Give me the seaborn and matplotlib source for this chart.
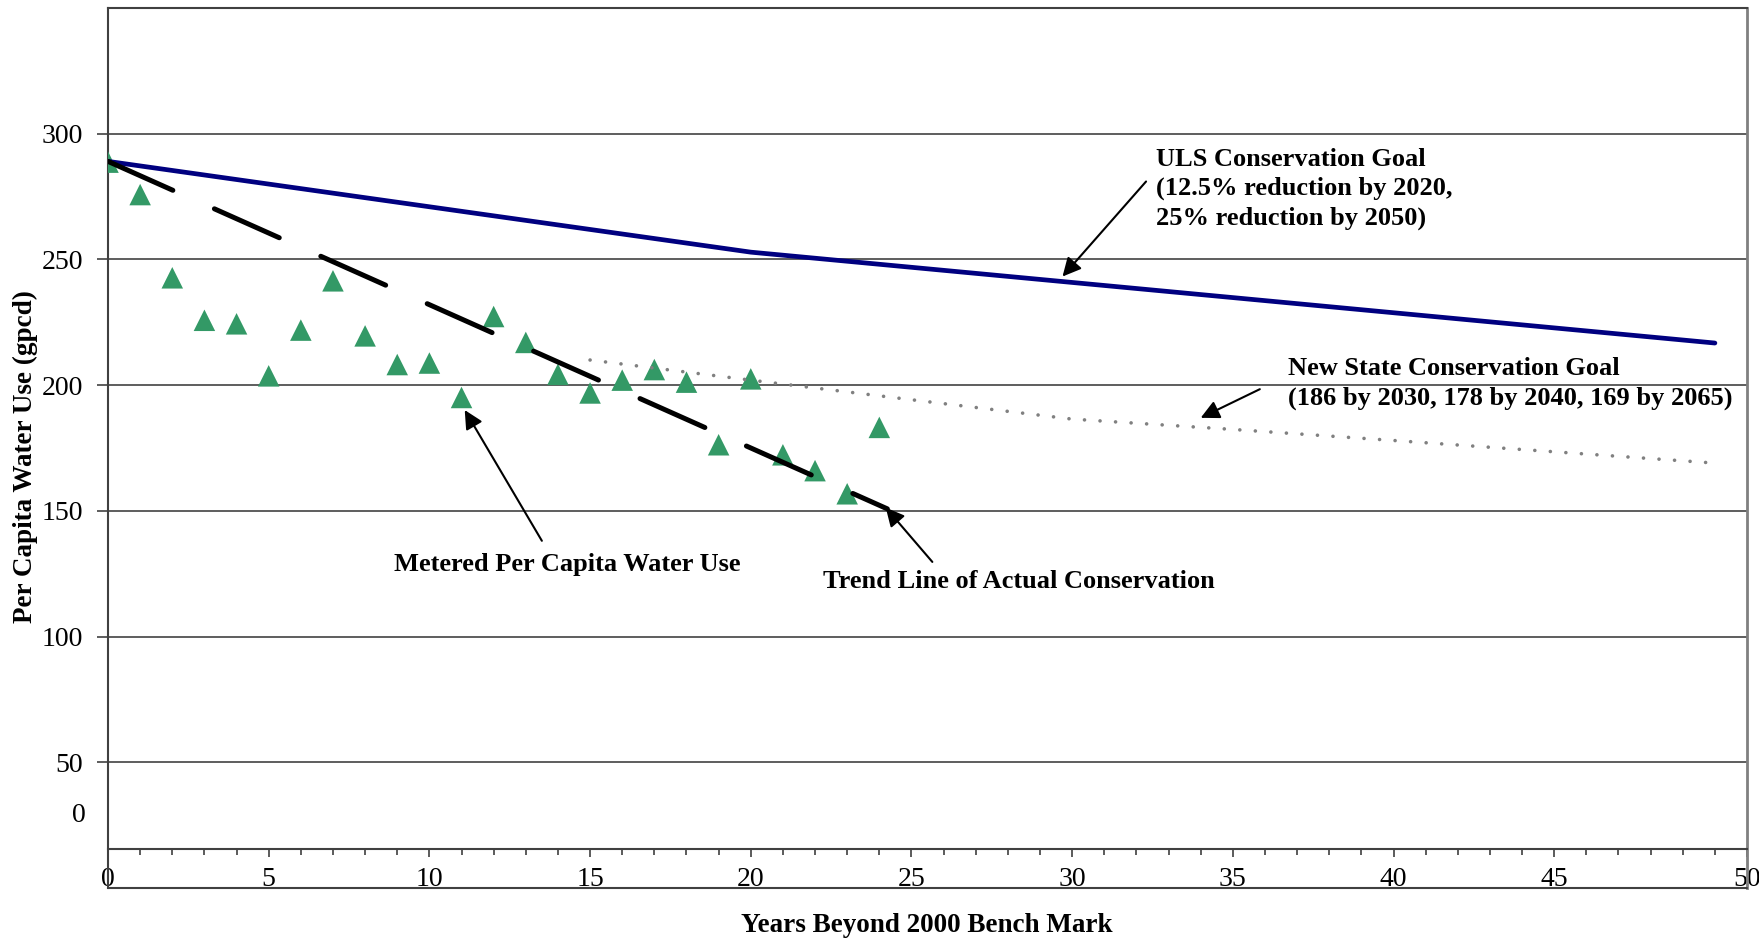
import numpy as np
import matplotlib
matplotlib.use("Agg")
import matplotlib.pyplot as plt
from matplotlib.ticker import FixedLocator, MultipleLocator
import seaborn as sns

# ------------------------------
# DATA
# ------------------------------
# metered per capita water use, years 0..24 beyond 2000
years = list(range(25))
metered_use = [288.7, 275.8, 242.7, 225.8, 224.4, 203.7, 221.9, 241.5, 219.6, 208.2,
               208.8, 195.1, 227.3, 217.0, 204.3, 196.9, 202.0, 206.2, 201.2, 176.3,
               202.5, 172.3, 166.0, 156.8, 183.2]

# ULS conservation goal (12.5% by 2020, 25% by 2050)
uls_years = [0, 20, 50]
uls_goal = [289, 252.9, 216.75]

# new state conservation goal
state_years = [15, 20, 25, 30, 35, 40, 45, 50]
state_goal = [210, 202, 194.2, 186.5, 182.4, 178, 173.5, 169]

# linear trend of actual conservation
trend_years = [0, 24.25]
trend_use = [289, 150.8]

ytick_vals = [50, 100, 150, 200, 250, 300]
xtick_pos = [0, 5, 10, 15, 20, 25, 30, 35, 40, 45, 51]
xtick_labels = ["0", "5", "10", "15", "20", "25", "30", "35", "40", "45", "50"]

# ------------------------------
# STYLE
# ------------------------------
sns.set_theme(style="white")
plt.rcParams["font.family"] = ["Liberation Serif", "DejaVu Serif"]
plt.rcParams["text.color"] = "black"
plt.rcParams["xtick.labelcolor"] = "black"
plt.rcParams["ytick.labelcolor"] = "black"

fig = plt.figure(figsize=(17.59, 9.42), dpi=100)
ax = fig.add_axes([0.0614, 0.0573, 0.9318, 0.9342])

frame_col = "#404040"

# ------------------------------
# LINES + POINTS
# ------------------------------
sns.scatterplot(x=years, y=metered_use, marker="^", s=240, color="#339966",
                edgecolor="none", ax=ax, zorder=3)

sns.lineplot(x=state_years, y=state_goal, ax=ax, color="#808080", lw=2.6,
             linestyle=(0, (0.01, 4.3)), dash_capstyle="round", zorder=4)

sns.lineplot(x=uls_years, y=uls_goal, ax=ax, color="#000080", lw=3.4, zorder=4)

sns.lineplot(x=trend_years, y=trend_use, ax=ax, color="black", lw=3.6,
             linestyle=(0, (14.2, 9.1)), dash_capstyle="round", zorder=5)

# ------------------------------
# AXES
# ------------------------------
ax.set_xlim(0, 51)
ax.set_ylim(0, 350)

ax.yaxis.set_major_locator(FixedLocator(ytick_vals))
ax.set_yticklabels([str(v) for v in ytick_vals])
ax.grid(axis="y", color="#505050", lw=1.3)
ax.grid(axis="x", visible=False)
ax.tick_params(axis="y", left=True, length=8, width=1.3, color="#505050",
               pad=10, labelsize=20, labelcolor="black")

# x axis is drawn a bit above the bottom of the frame
ax.spines["bottom"].set_position(("data", 15.5))
ax.xaxis.set_major_locator(FixedLocator(xtick_pos))
ax.set_xticklabels(xtick_labels)
ax.xaxis.set_minor_locator(MultipleLocator(1))
ax.tick_params(axis="x", which="major", bottom=True, length=6, width=1.2,
               color=frame_col, pad=7, labelsize=20, labelcolor="black")
ax.tick_params(axis="x", which="minor", bottom=True, length=4.5, width=1.2,
               color=frame_col)

for side in ["left", "top", "bottom"]:
    ax.spines[side].set_color(frame_col)
    ax.spines[side].set_linewidth(1.5)
ax.spines["right"].set_color("#808080")
ax.spines["right"].set_linewidth(2)
ax.axhline(0, color=frame_col, lw=1.5, clip_on=False, zorder=6)

# stray "0" label of the value axis
ax.annotate("0", xy=(0, 28.9), xycoords=("axes fraction", "data"),
            xytext=(-22, 0), textcoords="offset pixels",
            ha="right", va="center", fontsize=20)

fig.text(927 / 1759, 1 - 926 / 942, "Years Beyond 2000 Bench Mark",
         ha="center", va="center", fontsize=19.5, fontweight="bold")
fig.text(25 / 1759, 1 - 457 / 942, "Per Capita Water Use (gpcd)",
         ha="center", va="center", rotation=90, fontsize=19.5, fontweight="bold")

# ------------------------------
# ANNOTATIONS
# ------------------------------
arrow = dict(arrowstyle="-|>", color="black", lw=1.5, mutation_scale=28,
             shrinkA=0, shrinkB=0)

ax.text(32.6, 294.5, "ULS Conservation Goal\n(12.5% reduction by 2020,\n25% reduction by 2050)",
        ha="left", va="top", fontsize=19, fontweight="bold", linespacing=1.36)
ax.annotate("", xy=(29.7, 243.2), xytext=(32.3, 281.0), arrowprops=arrow)

ax.text(36.73, 211.0, "New State Conservation Goal\n(186 by 2030, 178 by 2040, 169 by 2065)",
        ha="left", va="top", fontsize=19, fontweight="bold", linespacing=1.36)
ax.annotate("", xy=(34.0, 187.0), xytext=(35.84, 198.4), arrowprops=arrow)

ax.text(14.3, 128.8, "Metered Per Capita Water Use",
        ha="center", va="center", fontsize=19, fontweight="bold")
ax.annotate("", xy=(11.1, 190.1), xytext=(13.5, 138.1), arrowprops=arrow)

ax.text(28.35, 121.8, "Trend Line of Actual Conservation",
        ha="center", va="center", fontsize=19, fontweight="bold")
ax.annotate("", xy=(24.2, 151.3), xytext=(25.65, 129.7), arrowprops=arrow)

fig.savefig("out.png", dpi=100)
